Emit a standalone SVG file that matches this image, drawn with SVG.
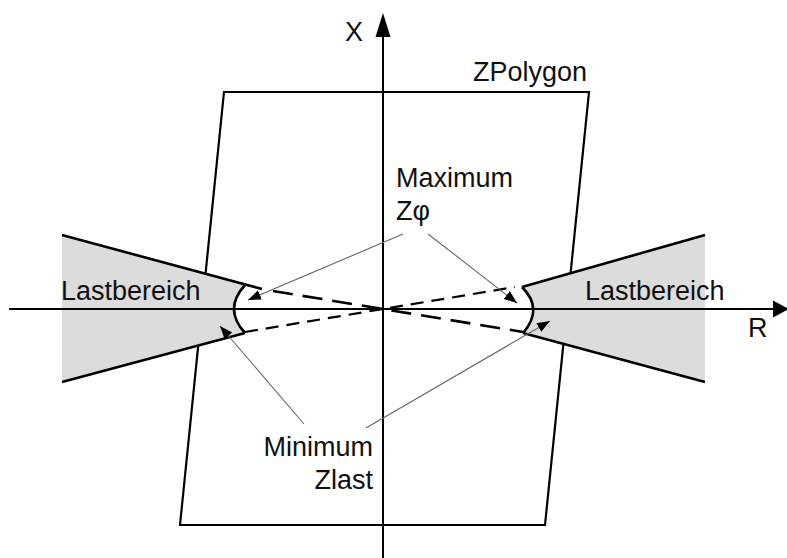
<svg xmlns="http://www.w3.org/2000/svg" width="787" height="558" viewBox="0 0 787 558">
<style>
.lbl{font-family:"Liberation Sans",Arial,sans-serif;font-size:27px;fill:#111}
.ax{stroke:#000;stroke-width:2;fill:none}
.poly{stroke:#000;stroke-width:2.2;fill:none}
.wedge{fill:#dcdcdc;stroke:none}
.edge{stroke:#000;stroke-width:2.6;fill:none}
.dA{stroke:#000;stroke-width:2.6;stroke-dasharray:20 10;fill:none}
.dB{stroke:#000;stroke-width:2.2;stroke-dasharray:13 8;fill:none}
.ptr{stroke:#666;stroke-width:1.1;fill:none}
</style>
<defs>
<marker id="ah" markerWidth="14" markerHeight="12" refX="13" refY="5" orient="auto" markerUnits="userSpaceOnUse">
<path d="M0,0 L13,5 L0,10 Z" fill="#000"/>
</marker>
</defs>
<g id="zpolygon">
<polygon class="poly" points="224,92 589,92 545,525 180,525"/>
</g>
<g id="lastbereich-left">
<path class="wedge" d="M62,235 L245,285 Q223,309 245,333 L62,382 Z"/>
<path class="edge" d="M62,235 L262,289"/>
<path class="edge" d="M62,382 L245,333"/>
<path class="edge" d="M245,285 Q223,309 245,333"/>
</g>
<g id="lastbereich-right">
<path class="wedge" d="M705,235 L522,287 Q544,309 523,333 L705,382 Z"/>
<path class="edge" d="M705,235 L522,287"/>
<path class="edge" d="M705,382 L523,333"/>
<path class="edge" d="M522,287 Q544,309 523,333"/>
</g>
<g id="axes">
<line class="ax" x1="9" y1="309" x2="774" y2="309"/>
<polygon points="773,300.5 789,309 773,317.5" fill="#000"/>
<line class="ax" x1="383" y1="558" x2="383" y2="36"/>
<polygon points="375.5,37 383,13 390.5,37" fill="#000"/>
</g>
<g id="connectors">
<line class="dA" x1="273" y1="291" x2="523" y2="332"/>
<line class="dB" x1="245" y1="332" x2="515" y2="287"/>
<line class="ptr" x1="403" y1="234" x2="248" y2="300" marker-end="url(#ah)"/>
<line class="ptr" x1="428" y1="234" x2="517" y2="303" marker-end="url(#ah)"/>
<line class="ptr" x1="304" y1="424" x2="220" y2="326" marker-end="url(#ah)"/>
<line class="ptr" x1="366" y1="428" x2="550" y2="321" marker-end="url(#ah)"/>
</g>
<g id="labels">
<text class="lbl" x="345" y="41">X</text>
<text class="lbl" x="473" y="81">ZPolygon</text>
<text class="lbl" x="61" y="300">Lastbereich</text>
<text class="lbl" x="585" y="300">Lastbereich</text>
<text class="lbl" x="748" y="337">R</text>
<text class="lbl" x="396" y="187">Maximum</text>
<text class="lbl" x="396" y="220">Zφ</text>
<text class="lbl" x="373" y="456" text-anchor="end">Minimum</text>
<text class="lbl" x="373" y="489" text-anchor="end">Zlast</text>
</g>
</svg>
